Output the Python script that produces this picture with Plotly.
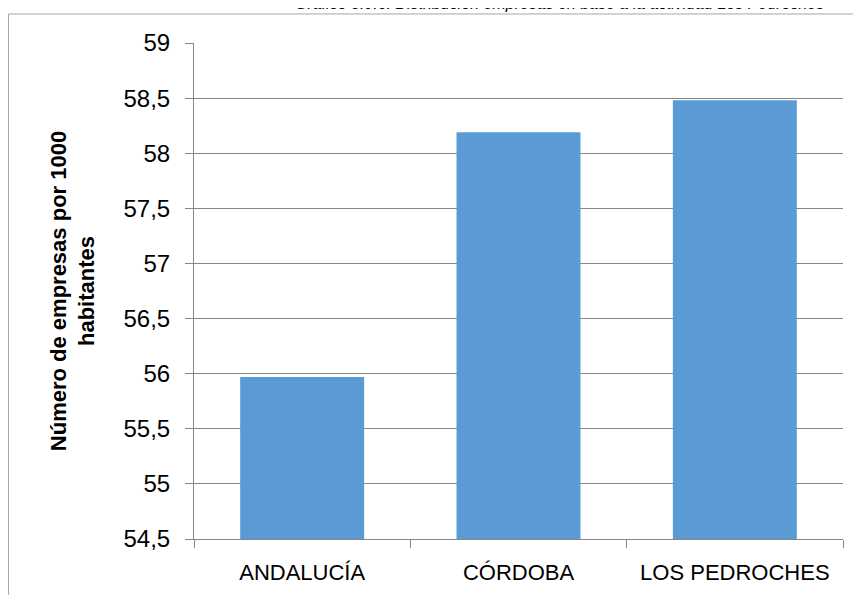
import plotly.graph_objects as go

# Datos
CATEGORIES = ["ANDALUCÍA", "CÓRDOBA", "LOS PEDROCHES"]
VALUES = [55.97, 58.19, 58.48]
Y_TITLE = "<b>Número de empresas por 1000<br>habitantes</b>"
CAPTION = "Gráfico 3.9.6: Distribución empresas en base a la actividad Los Pedroches"

FONT = "Liberation Sans Narrow, Arial Narrow, Liberation Sans, Arial, sans-serif"

fig = go.Figure()
fig.add_trace(
    go.Bar(
        x=CATEGORIES,
        y=VALUES,
        marker=dict(color="#5b9bd5", line=dict(width=0)),
        width=0.573,
    )
)

# Marco exterior del gráfico (sale de la ventana por abajo y por la derecha)
fig.add_shape(
    type="rect",
    xref="paper", yref="paper",
    x0=-0.2858, x1=1.2, y0=-0.3, y1=1.0585,
    line=dict(color="#a6a6a6", width=1),
    layer="below",
)

# Pie de gráfico, cortado por arriba como en el original
fig.add_annotation(
    text="<i>" + CAPTION + "</i>",
    xref="paper", yref="paper",
    x=0.1525, y=1.0585,
    xanchor="left", yanchor="bottom",
    showarrow=False,
    font=dict(family="Liberation Sans", size=16, color="#000000"),
)

fig.update_layout(
    width=861,
    height=595,
    # la página tiene 8px de margen en el body: se compensa aquí
    margin=dict(l=186, r=26, t=35, b=64),
    plot_bgcolor="white",
    paper_bgcolor="white",
    separators=",.",
    showlegend=False,
    font=dict(family=FONT, size=22, color="#000000"),
    xaxis=dict(
        type="category",
        showgrid=False,
        showline=True,
        linecolor="#868686",
        ticks="outside",
        tickson="boundaries",
        ticklen=8,
        tickcolor="#868686",
        ticklabelstandoff=14,
        tickfont=dict(family=FONT, size=22),
    ),
    yaxis=dict(
        range=[54.5, 59],
        dtick=0.5,
        tick0=54.5,
        showgrid=True,
        gridcolor="#868686",
        gridwidth=1,
        showline=True,
        linecolor="#868686",
        ticks="outside",
        ticklen=8,
        tickcolor="#868686",
        ticklabelstandoff=10,
        zeroline=False,
        tickfont=dict(family=FONT, size=24),
        title=dict(text=Y_TITLE, font=dict(family=FONT, size=22), standoff=22),
    ),
)

fig.write_html("out.html")
